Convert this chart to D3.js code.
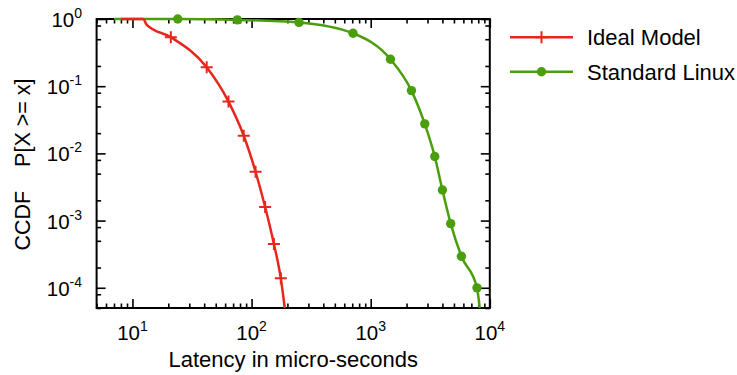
<!DOCTYPE html>
<html><head><meta charset="utf-8">
<script src="https://cdn.jsdelivr.net/npm/d3@7"></script>
<style>
body{margin:0;background:#fff}
svg{display:block}
text{font-family:"Liberation Sans",Arial,Helvetica,sans-serif;fill:#000}
</style>
</head><body>
<svg id="chart" width="737" height="375"></svg>
<script>
// ---- data ----
const seriesNames = ["Ideal Model", "Standard Linux"];
const seriesColors = ["#e8261c", "#4a9e0c"];

const idealX = [8, 12.3, 13.2, 21, 42, 64, 86, 108, 130, 154, 176, 190];
const idealY = [1, 1, 0.815, 0.535, 0.191, 0.059, 0.0183, 0.00533, 0.00159, 0.000449, 0.000138, 0.00005];
const idealMarkerIdx = [3, 4, 5, 6, 7, 8, 9, 10];

const linuxX = [7, 24, 76, 250, 711, 1466, 2199, 2844, 3451, 4002, 4697, 5776, 7810, 8226];
const linuxY = [1, 1, 0.97, 0.89, 0.613, 0.252, 0.086, 0.0275, 0.009, 0.00285, 0.0009, 0.000294, 0.0000997, 0.00005];
const linuxMarkerIdx = [1, 2, 3, 4, 5, 6, 7, 8, 9, 10, 11, 12];

const xMajorTicks = [10, 100, 1000, 10000];
const xTickExponents = ["1", "2", "3", "4"];
const yMajorTicks = [1, 0.1, 0.01, 0.001, 0.0001];
const yTickExponents = ["0", "-1", "-2", "-3", "-4"];
const yMinorMantissas = [2, 5, 8];

const xDomain = [5, 10000];
const yDomain = [0.00005, 1];
const xTitle = "Latency in micro-seconds";
const yTitle = "CCDF    P[X >= x]";

// ---- layout ----
const L = 96.6, R = 489.8, T = 19, B = 308;
const svg = d3.select("#chart");
const x = d3.scaleLog().domain(xDomain).range([L, R]);
const y = d3.scaleLog().domain(yDomain).range([B, T]);

// minor tick values
const xMinor = [];
for (let e = 0; e <= 3; e++) for (let m = 2; m <= 9; m++) {
  const v = m * Math.pow(10, e);
  if (v >= xDomain[0] && v <= xDomain[1]) xMinor.push(v);
}
const yMinor = [];
for (let e = -5; e <= -1; e++) for (const m of yMinorMantissas) {
  const v = m * Math.pow(10, e);
  if (v >= yDomain[0] && v <= yDomain[1]) yMinor.push(v);
}

function styleAxis(g) {
  g.select(".domain").remove();
  g.selectAll(".tick line").attr("stroke", "#000").attr("stroke-width", 1.6);
  g.selectAll(".tick text").remove();
}
const MAJ = 9, MIN = 4.5;
svg.append("g").attr("transform", `translate(0,${B})`)
  .call(d3.axisBottom(x).tickValues(xMajorTicks).tickSize(-MAJ).tickFormat("")).call(styleAxis);
svg.append("g").attr("transform", `translate(0,${B})`)
  .call(d3.axisBottom(x).tickValues(xMinor).tickSize(-MIN).tickFormat("")).call(styleAxis);
svg.append("g").attr("transform", `translate(0,${T})`)
  .call(d3.axisTop(x).tickValues(xMajorTicks).tickSize(-MAJ).tickFormat("")).call(styleAxis);
svg.append("g").attr("transform", `translate(0,${T})`)
  .call(d3.axisTop(x).tickValues(xMinor).tickSize(-MIN).tickFormat("")).call(styleAxis);
svg.append("g").attr("transform", `translate(${L},0)`)
  .call(d3.axisLeft(y).tickValues(yMajorTicks).tickSize(-MAJ).tickFormat("")).call(styleAxis);
svg.append("g").attr("transform", `translate(${L},0)`)
  .call(d3.axisLeft(y).tickValues(yMinor).tickSize(-MIN).tickFormat("")).call(styleAxis);
svg.append("g").attr("transform", `translate(${R},0)`)
  .call(d3.axisRight(y).tickValues(yMajorTicks).tickSize(-MAJ).tickFormat("")).call(styleAxis);
svg.append("g").attr("transform", `translate(${R},0)`)
  .call(d3.axisRight(y).tickValues(yMinor).tickSize(-MIN).tickFormat("")).call(styleAxis);

// border
svg.append("rect").attr("x", L).attr("y", T).attr("width", R - L).attr("height", B - T)
  .attr("fill", "none").attr("stroke", "#000").attr("stroke-width", 2);

// tick labels
const FS = 20.5, SUP = 14;
xMajorTicks.forEach((v, i) => {
  const t = svg.append("text").attr("x", x(v)).attr("y", 339.5)
    .attr("text-anchor", "middle").style("font-size", FS + "px");
  t.append("tspan").text("10");
  t.append("tspan").attr("dy", -9).style("font-size", SUP + "px").text(xTickExponents[i]);
});
yMajorTicks.forEach((v, i) => {
  const t = svg.append("text").attr("x", 82).attr("y", y(v) + 8)
    .attr("text-anchor", "end").style("font-size", FS + "px");
  t.append("tspan").text("10");
  t.append("tspan").attr("dy", -9).style("font-size", SUP + "px").text(yTickExponents[i]);
});

// axis titles
svg.append("text").attr("x", (L + R) / 2).attr("y", 367).attr("text-anchor", "middle")
  .style("font-size", "22px").text(xTitle);
svg.append("text").attr("transform", `translate(29.5,${(T + B) / 2 + 1}) rotate(-90)`)
  .attr("text-anchor", "middle").style("font-size", "21.5px").style("white-space", "pre")
  .text(yTitle);

// clip
svg.append("clipPath").attr("id", "plotclip").append("rect")
  .attr("x", L).attr("y", T - 2).attr("width", R - L).attr("height", B - T + 2);

const line = d3.line().x(d => x(d[0])).y(d => y(d[1])).curve(d3.curveMonotoneX);

const idealPts = idealX.map((v, i) => [v, idealY[i]]);
const linuxPts = linuxX.map((v, i) => [v, linuxY[i]]);

function plus(g, cx, cy, color) {
  g.append("path").attr("d", `M${cx - 6},${cy}H${cx + 6}M${cx},${cy - 6}V${cy + 6}`)
    .attr("stroke", color).attr("stroke-width", 2).attr("fill", "none");
}

const gLines = svg.append("g").attr("clip-path", "url(#plotclip)");
gLines.append("path").datum(linuxPts).attr("d", line).attr("fill", "none")
  .attr("stroke", seriesColors[1]).attr("stroke-width", 2.5);
gLines.append("path").datum(idealPts).attr("d", line).attr("fill", "none")
  .attr("stroke", seriesColors[0]).attr("stroke-width", 2.5);

const gMarks = svg.append("g");
linuxMarkerIdx.forEach(i => {
  gMarks.append("circle").attr("cx", x(linuxX[i])).attr("cy", y(linuxY[i])).attr("r", 4.7)
    .attr("fill", seriesColors[1]);
});
idealMarkerIdx.forEach(i => plus(gMarks, x(idealX[i]), y(idealY[i]), seriesColors[0]));

// legend
const lg = svg.append("g");
[37.3, 71.7].forEach((ly, i) => {
  lg.append("line").attr("x1", 510).attr("x2", 573).attr("y1", ly).attr("y2", ly)
    .attr("stroke", seriesColors[i]).attr("stroke-width", 2.5);
  if (i === 0) plus(lg, 541.5, ly, seriesColors[0]);
  else lg.append("circle").attr("cx", 541.5).attr("cy", ly).attr("r", 4.7).attr("fill", seriesColors[1]);
  lg.append("text").attr("x", 587).attr("y", ly + 7.8).style("font-size", "22px").text(seriesNames[i]);
});
</script>
</body></html>
